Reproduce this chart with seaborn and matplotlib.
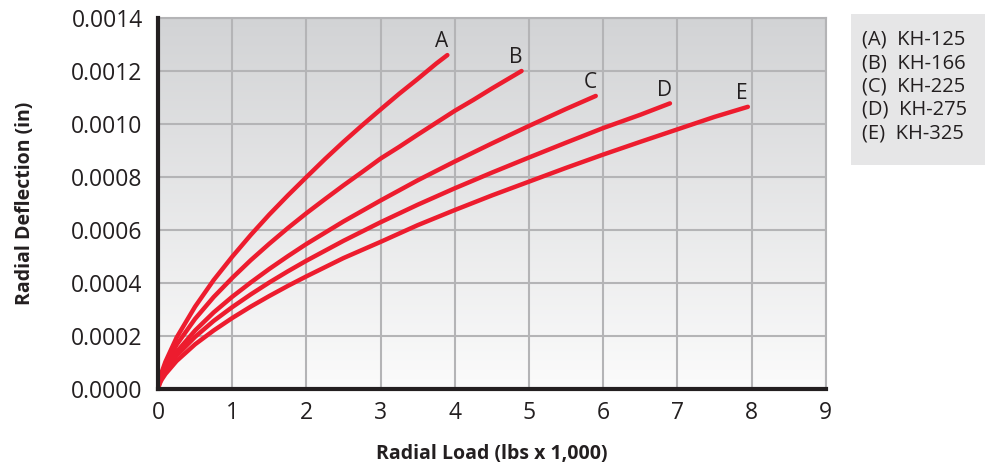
import numpy as np
import pandas as pd
import matplotlib.pyplot as plt
import seaborn as sns
from matplotlib.colors import LinearSegmentedColormap
from matplotlib.patches import Rectangle

# values (load in 1,000 lbs, deflection in inches)
load_a = [0, 0.02, 0.05, 0.1, 0.25, 0.5, 0.75, 1, 1.25, 1.5, 1.75, 2, 2.25, 2.5, 2.75, 3, 3.25, 3.5, 3.75, 3.9]
defl_a = [0, 0.000035, 0.000065, 0.000104, 0.000195, 0.000312, 0.000412, 0.000500, 0.000582, 0.000659, 0.000731,
          0.000800, 0.000868, 0.000933, 0.000995, 0.001055, 0.001114, 0.001170, 0.001228, 0.001260]
load_b = [0, 0.02, 0.05, 0.1, 0.25, 0.5, 0.75, 1, 1.25, 1.5, 1.75, 2, 2.25, 2.5, 2.75, 3, 3.25, 3.5, 3.75, 4, 4.25, 4.5, 4.9]
defl_b = [0, 0.000032, 0.000058, 0.000092, 0.000168, 0.000266, 0.000348, 0.000420, 0.000487, 0.000549, 0.000608,
          0.000664, 0.000717, 0.000769, 0.000819, 0.000870, 0.000914, 0.000960, 0.001005, 0.001050, 0.001091,
          0.001134, 0.001200]
load_c = [0, 0.02, 0.05, 0.1, 0.25, 0.5, 0.75, 1, 1.25, 1.5, 1.75, 2, 2.5, 3, 3.5, 4, 4.5, 5, 5.5, 5.9]
defl_c = [0, 0.000027, 0.000050, 0.000078, 0.000141, 0.000222, 0.000290, 0.000349, 0.000403, 0.000454, 0.000502,
          0.000548, 0.000633, 0.000712, 0.000788, 0.000859, 0.000927, 0.000993, 0.001057, 0.001106]
load_d = [0, 0.02, 0.05, 0.1, 0.25, 0.5, 0.75, 1, 1.25, 1.5, 1.75, 2, 2.5, 3, 3.5, 4, 4.5, 5, 5.5, 6, 6.5, 6.9]
defl_d = [0, 0.000025, 0.000044, 0.000070, 0.000127, 0.000198, 0.000258, 0.000310, 0.000358, 0.000403, 0.000445,
          0.000485, 0.000560, 0.000630, 0.000696, 0.000758, 0.000817, 0.000874, 0.000930, 0.000985, 0.001035, 0.001078]
load_e = [0, 0.02, 0.05, 0.1, 0.25, 0.5, 0.75, 1, 1.25, 1.5, 1.75, 2, 2.5, 3, 3.5, 4, 4.5, 5, 5.5, 6, 6.5, 7, 7.5, 7.95]
defl_e = [0, 0.000020, 0.000037, 0.000058, 0.000107, 0.000170, 0.000222, 0.000269, 0.000312, 0.000352, 0.000390,
          0.000426, 0.000495, 0.000556, 0.000619, 0.000676, 0.000731, 0.000783, 0.000835, 0.000885, 0.000933,
          0.000980, 0.001027, 0.001065]
curve_letters = ['A', 'B', 'C', 'D', 'E']
models = ['KH-125', 'KH-166', 'KH-225', 'KH-275', 'KH-325']
x_ticks = [0, 1, 2, 3, 4, 5, 6, 7, 8, 9]
y_ticks = [0, 0.0002, 0.0004, 0.0006, 0.0008, 0.0010, 0.0012, 0.0014]

loads = [load_a, load_b, load_c, load_d, load_e]
defls = [defl_a, defl_b, defl_c, defl_d, defl_e]
df = pd.concat([pd.DataFrame({'load': l, 'defl': d, 'curve': c})
                for l, d, c in zip(loads, defls, curve_letters)], ignore_index=True)

sns.set_style('white')
plt.rcParams['font.family'] = ['Open Sans', 'DejaVu Sans']

red = '#ed1c2e'
grid_col = '#b4b4b6'
ink = '#231f20'

fig = plt.figure(figsize=(9.9, 4.72), dpi=100)
ax = fig.add_axes([0.1596, 0.175, 0.6745, 0.787])

# gray-to-white gradient background
grad = np.linspace(0, 1, 256)[:, None]
cmap = LinearSegmentedColormap.from_list('bg', ['#fbfbfb', '#d2d3d5'])
ax.imshow(grad, extent=[0, 9, 0, 0.0014], aspect='auto', origin='lower', cmap=cmap, zorder=0)

sns.lineplot(data=df, x='load', y='defl', hue='curve', palette=[red] * 5,
             linewidth=3.2, legend=False, sort=False, estimator=None, ax=ax, zorder=3)

for l, d, c in zip(loads, defls, curve_letters):
    ax.annotate(c, (l[-1], d[-1]), xytext=(-4, 2), textcoords='offset points',
                ha='center', va='bottom', fontsize=15, color=ink)

ax.set_xlim(0, 9)
ax.set_ylim(0, 0.0014)
ax.set_xticks(x_ticks)
ax.set_yticks(y_ticks)
ax.set_yticklabels([f'{v:.4f}' for v in y_ticks])
ax.grid(True, color=grid_col, linewidth=1.5)
for gl in ax.get_xgridlines() + ax.get_ygridlines():
    gl.set_zorder(1)
ax.tick_params(length=0, labelsize=16.5, colors=ink)
ax.tick_params(axis='y', pad=11)
ax.tick_params(axis='x', pad=8)

for s in ['top', 'right']:
    ax.spines[s].set_color(grid_col)
    ax.spines[s].set_linewidth(1.5)
for s in ['left', 'bottom']:
    ax.spines[s].set_color(ink)
    ax.spines[s].set_linewidth(3)
    ax.spines[s].set_zorder(4)

ax.set_xlabel('Radial Load (lbs x 1,000)', fontsize=14, fontweight='bold', labelpad=14, color=ink)
ax.set_ylabel('Radial Deflection (in)', fontsize=14, fontweight='bold', labelpad=26, color=ink)

# legend box on the right
fig.patches.append(Rectangle((851 / 990, 1 - 165 / 472), 134 / 990, 151 / 472,
                             transform=fig.transFigure, facecolor='#e6e6e7', edgecolor='none'))
for i, (c, m) in enumerate(zip(curve_letters, models)):
    fig.text(862 / 990, 1 - (40 + i * 23.3) / 472, f'({c})  {m}', fontsize=14.5,
             va='center', ha='left', color=ink)

fig.savefig('out.png', dpi=100)
plt.close(fig)
